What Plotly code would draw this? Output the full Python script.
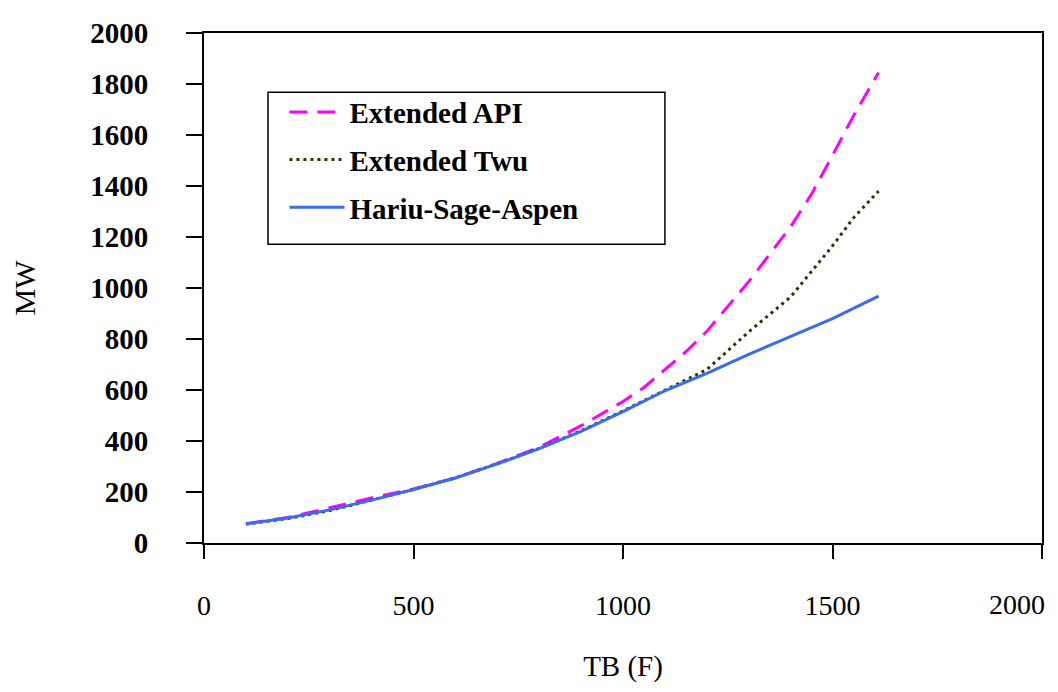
import plotly.graph_objects as go

# Boiling temperature TB (F)
tb_hsa = [100, 200, 300, 400, 500, 600, 700, 800, 900, 1000, 1100, 1200, 1300, 1400, 1500, 1610]
mw_hsa = [75, 98, 130, 168, 210, 255, 310, 370, 438, 515, 597, 665, 740, 810, 880, 968]

tb_twu = [100, 200, 300, 400, 500, 600, 700, 800, 900, 1000, 1100, 1200, 1300, 1400, 1500, 1550, 1610]
mw_twu = [74, 96, 127, 167, 210, 256, 311, 371, 440, 518, 600, 680, 828, 965, 1165, 1275, 1380]

tb_api = [100, 200, 300, 400, 500, 600, 700, 800, 900, 1000, 1050, 1100, 1150, 1200, 1300, 1400, 1450, 1500, 1550, 1610]
mw_api = [76, 100, 138, 177, 212, 255, 312, 375, 460, 555, 610, 680, 750, 830, 1025, 1240, 1368, 1520, 1675, 1845]

x_ticks = [0, 500, 1000, 1500, 2000]
x_labels = ["0", "500", "1000", "1500", "2000"]
y_ticks = [0, 200, 400, 600, 800, 1000, 1200, 1400, 1600, 1800, 2000]

SERIF = "Liberation Serif"

fig = go.Figure()
fig.add_trace(go.Scatter(x=tb_api, y=mw_api, mode="lines", name="Extended API",
                         legendgroup="a",
                         line=dict(color="#FF00FF", width=3, dash="18px,10px")))
fig.add_trace(go.Scatter(x=tb_twu, y=mw_twu, mode="lines", name="Extended Twu",
                         legendgroup="b",
                         line=dict(color="#333300", width=3, dash="3px,4px")))
fig.add_trace(go.Scatter(x=tb_hsa, y=mw_hsa, mode="lines", name="Hariu-Sage-Aspen",
                         legendgroup="c",
                         line=dict(color="#3A6BF5", width=3)))
# empty trace so the overlay axis (carrying the last, inward-nudged tick label) is drawn
fig.add_trace(go.Scatter(x=[], y=[], xaxis="x2", yaxis="y", mode="lines",
                         showlegend=False, hoverinfo="skip"))

xtickfont = dict(family=SERIF, size=28, color="black")

fig.update_layout(
    width=1050, height=684,
    margin=dict(l=196, r=16, t=25, b=149, autoexpand=False),
    paper_bgcolor="white", plot_bgcolor="white",
    showlegend=True,
    legend=dict(x=0.096, y=0.895, xanchor="left", yanchor="top",
                bgcolor="rgba(0,0,0,0)", borderwidth=0,
                font=dict(family=SERIF, size=29, color="black", weight="bold"),
                tracegroupgap=7, itemwidth=55),
    shapes=[dict(type="rect", xref="paper", yref="paper",
                 x0=0.0764, x1=0.550, y0=0.586, y1=0.884,
                 line=dict(color="black", width=1.5), fillcolor="rgba(0,0,0,0)")],
    xaxis=dict(range=[0, 2000], tickvals=x_ticks, ticktext=x_labels[:-1] + [""],
               automargin=False,
               showgrid=False, zeroline=False,
               showline=True, linecolor="black", linewidth=2, mirror=True,
               ticks="outside", ticklen=14, tickwidth=2, tickcolor="black",
               ticklabelstandoff=22,
               tickfont=xtickfont,
               title=dict(text="TB (F)", font=dict(family=SERIF, size=29, color="black"),
                          standoff=36)),
    xaxis2=dict(overlaying="x", anchor="y", side="bottom", range=[0, 2000],
                tickvals=x_ticks[-1:], ticktext=x_labels[-1:],
                automargin=False, ticklabeloverflow="allow",
                showgrid=False, zeroline=False, showline=False,
                ticks="outside", ticklen=14, tickwidth=2, tickcolor="rgba(0,0,0,0)",
                ticklabelstandoff=22, ticklabelshift=-25,
                tickfont=xtickfont),
    yaxis=dict(range=[0, 2000], tickvals=y_ticks, ticktext=[str(v) for v in y_ticks],
               automargin=False,
               showgrid=False, zeroline=False,
               showline=True, linecolor="black", linewidth=2, mirror=True,
               ticks="outside", ticklen=16, tickwidth=2, tickcolor="black",
               ticklabelstandoff=32,
               tickfont=dict(family=SERIF, size=29, color="black", weight="bold"),
               title=dict(text="MW", font=dict(family=SERIF, size=30, color="black"),
                          standoff=46)),
)

fig.write_html("out.html")
